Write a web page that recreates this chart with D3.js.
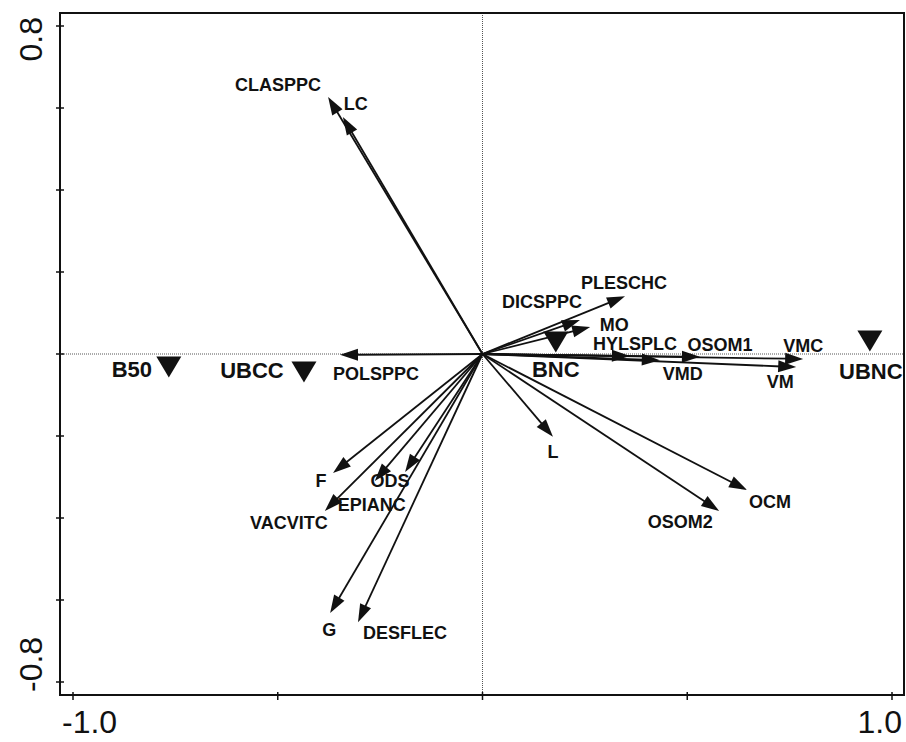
<!DOCTYPE html>
<html>
  <head>
    <meta charset="utf-8" />
    <title>biplot</title>
    <script src="https://cdn.jsdelivr.net/npm/d3@7"></script>
    <style type="text/css">
      body { margin: 0; background: #fff; }
      text { font-family: "Liberation Sans", Arial, sans-serif; fill: #111; }
    </style>
  </head>
  <body>
    <svg id="chart" width="906" height="742"></svg>
    <script type="text/javascript">
      // species / environment arrows (axis 1, axis 2)
      var arrowNames = ['CLASPPC', 'LC', 'PLESCHC', 'DICSPPC', 'MO', 'HYLSPLC', 'VMD', 'OSOM1',
        'VMC', 'VM', 'POLSPPC', 'L', 'OCM', 'OSOM2', 'F', 'ODS', 'EPIANC', 'VACVITC', 'G', 'DESFLEC'];
      var arrowX = [-0.377, -0.341, 0.348, 0.238, 0.263, 0.360, 0.433, 0.531,
        0.783, 0.766, -0.348, 0.172, 0.646, 0.578, -0.365, -0.189, -0.263, -0.385, -0.372, -0.304];
      var arrowY = [0.627, 0.578, 0.141, 0.083, 0.066, -0.005, -0.015, -0.007,
        -0.012, -0.032, -0.002, -0.202, -0.332, -0.383, -0.290, -0.288, -0.310, -0.383, -0.632, -0.654];

      // sites
      var siteNames = ['B50', 'UBCC', 'BNC', 'UBNC'];
      var siteX = [-0.766, -0.436, 0.179, 0.946];
      var siteY = [-0.032, -0.044, 0.029, 0.032];

      var xTicks = [-1.0, -0.5, 0, 0.5, 1.0];
      var yTicks = [-0.8, -0.6, -0.4, -0.2, 0, 0.2, 0.4, 0.6, 0.8];
      var xTickLabels = ['-1.0', '1.0'];
      var yTickLabels = ['-0.8', '0.8'];

      // label placement (pixel offsets from arrow tip / symbol)
      var labelOff = {
        CLASPPC: [-50, -12], LC: [13, -13], PLESCHC: [-1, -13], DICSPPC: [-38, -18],
        MO: [24, -2], HYLSPLC: [5, -12], VMD: [23, 14], OSOM1: [20, -12], VMC: [0, -13],
        VM: [-16, 15], POLSPPC: [36, 19], L: [0, 15], OCM: [23, 12], OSOM2: [-39, 11],
        F: [-12, 8], ODS: [-15, 9], EPIANC: [-3, 24], VACVITC: [-36, 12], G: [-1, 17],
        DESFLEC: [47, 11],
        B50: [-37, 2], UBCC: [-52, -2], BNC: [0, 27], UBNC: [1, 31]
      };

      var svg = d3.select('#chart');
      var x = d3.scaleLinear().domain([-1, 1]).range([73, 892]);
      var y = d3.scaleLinear().domain([-0.8, 0.8]).range([682, 26]);
      var fL = 60, fR = 904, fT = 13, fB = 695;

      // zero lines
      svg.append('line').attr('x1', x(0)).attr('x2', x(0)).attr('y1', fT).attr('y2', fB)
        .attr('stroke', '#555').attr('stroke-width', 1).attr('stroke-dasharray', '1,1');
      svg.append('line').attr('x1', fL).attr('x2', fR).attr('y1', y(0)).attr('y2', y(0))
        .attr('stroke', '#555').attr('stroke-width', 1).attr('stroke-dasharray', '1,1');

      // frame
      svg.append('rect').attr('x', fL).attr('y', fT).attr('width', fR - fL).attr('height', fB - fT)
        .attr('fill', 'none').attr('stroke', '#111').attr('stroke-width', 2);

      svg.selectAll('.xt').data(xTicks).enter().append('line')
        .attr('x1', (d) => x(d)).attr('x2', (d) => x(d)).attr('y1', fB - 3).attr('y2', fB + 5)
        .attr('stroke', '#111').attr('stroke-width', 1.5);
      svg.selectAll('.yt').data(yTicks).enter().append('line')
        .attr('y1', (d) => y(d)).attr('y2', (d) => y(d)).attr('x1', fL - 4).attr('x2', fL + 4)
        .attr('stroke', '#111').attr('stroke-width', 1.5);

      svg.append('text').attr('x', x(-1) - 11).attr('y', 733).attr('font-size', 32)
        .attr('text-anchor', 'start').text(xTickLabels[0]);
      svg.append('text').attr('x', x(1) + 10).attr('y', 733).attr('font-size', 32)
        .attr('text-anchor', 'end').text(xTickLabels[1]);
      svg.append('text').attr('transform', 'translate(42,' + (y(-0.8) + 10) + ') rotate(-90)')
        .attr('font-size', 32).attr('text-anchor', 'start').text(yTickLabels[0]);
      svg.append('text').attr('transform', 'translate(42,' + (y(0.8) - 9) + ') rotate(-90)')
        .attr('font-size', 32).attr('text-anchor', 'end').text(yTickLabels[1]);

      // arrows
      var arrows = arrowNames.map((n, i) => ({ name: n, x: arrowX[i], y: arrowY[i] }));
      var ox = x(0), oy = y(0);
      var headLen = 18, headW = 6;

      var g = svg.append('g');
      g.selectAll('line.arr').data(arrows).enter().append('line')
        .attr('x1', ox).attr('y1', oy)
        .attr('x2', function (d) {
          var dx = x(d.x) - ox, dy = y(d.y) - oy, l = Math.sqrt(dx * dx + dy * dy);
          return x(d.x) - dx / l * (headLen - 3);
        })
        .attr('y2', function (d) {
          var dx = x(d.x) - ox, dy = y(d.y) - oy, l = Math.sqrt(dx * dx + dy * dy);
          return y(d.y) - dy / l * (headLen - 3);
        })
        .attr('stroke', '#111').attr('stroke-width', 1.8);

      g.selectAll('path.head').data(arrows).enter().append('path')
        .attr('fill', '#111')
        .attr('d', function (d) {
          var tx = x(d.x), ty = y(d.y);
          var dx = tx - ox, dy = ty - oy, l = Math.sqrt(dx * dx + dy * dy);
          var ux = dx / l, uy = dy / l;
          var bx = tx - ux * headLen, by = ty - uy * headLen;
          return 'M' + tx + ',' + ty +
            'L' + (bx - uy * headW) + ',' + (by + ux * headW) +
            'L' + (bx + uy * headW) + ',' + (by - ux * headW) + 'Z';
        });

      g.selectAll('text.lab').data(arrows).enter().append('text')
        .attr('x', (d) => x(d.x) + labelOff[d.name][0])
        .attr('y', (d) => y(d.y) + labelOff[d.name][1])
        .attr('text-anchor', 'middle').attr('dominant-baseline', 'central')
        .attr('font-size', 18).attr('font-weight', 'bold')
        .text((d) => d.name);

      // sites
      var sites = siteNames.map((n, i) => ({ name: n, x: siteX[i], y: siteY[i] }));
      svg.selectAll('path.site').data(sites).enter().append('path')
        .attr('fill', '#111')
        .attr('d', function (d) {
          var cx = x(d.x), cy = y(d.y);
          return 'M' + (cx - 12.5) + ',' + (cy - 10.5) + 'L' + (cx + 12.5) + ',' + (cy - 10.5) +
            'L' + cx + ',' + (cy + 10.5) + 'Z';
        });
      svg.selectAll('text.site').data(sites).enter().append('text')
        .attr('x', (d) => x(d.x) + labelOff[d.name][0])
        .attr('y', (d) => y(d.y) + labelOff[d.name][1])
        .attr('text-anchor', 'middle').attr('dominant-baseline', 'central')
        .attr('font-size', 22).attr('font-weight', 'bold')
        .text((d) => d.name);
    </script>
  </body>
</html>
